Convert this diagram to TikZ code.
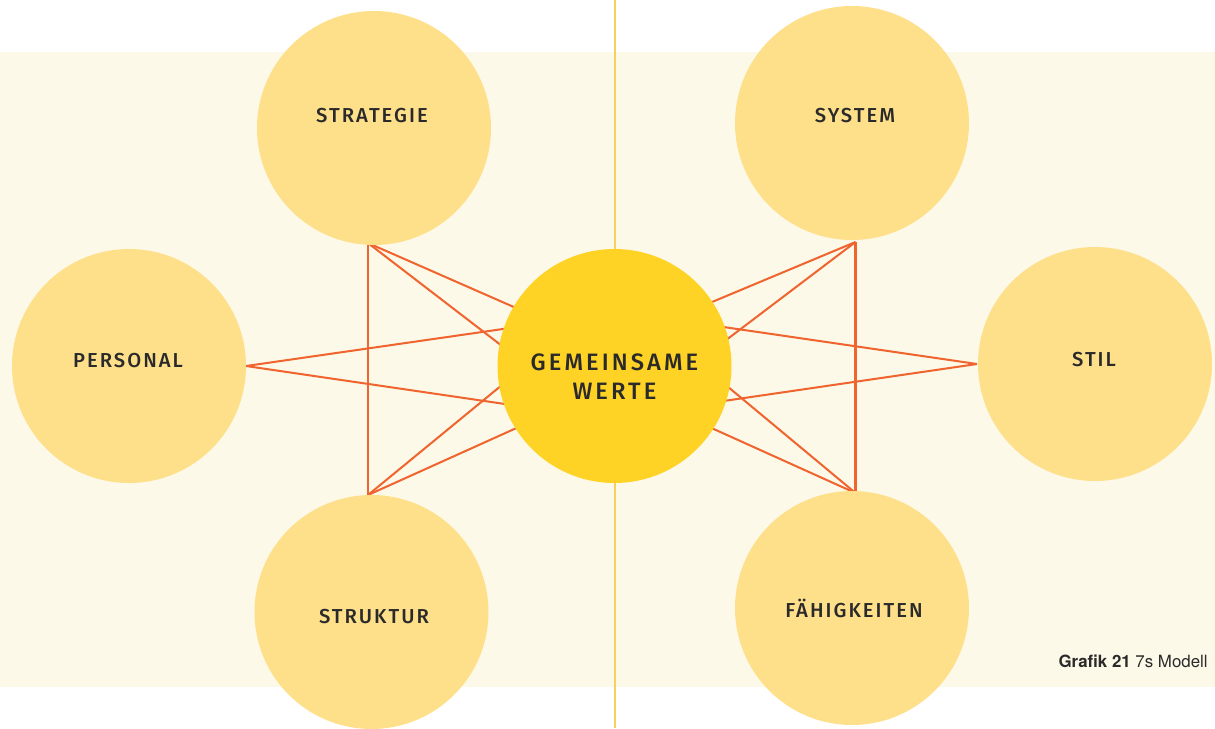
\documentclass[tikz,border=0pt]{standalone}
\usepackage{fontspec}
\setmainfont{TeX Gyre Heros}
\newfontfamily\lblfont{Fira Sans}[UprightFont=* Medium, LetterSpace=10]
\newfontfamily\corefont{Fira Sans}[UprightFont=* Medium, LetterSpace=13]
\newfontfamily\capfont{TeX Gyre Heros}
\definecolor{cream}{HTML}{FDF9E8}
\definecolor{softyellow}{HTML}{FFE08A}
\definecolor{coreyellow}{HTML}{FFD226}
\definecolor{linkorange}{HTML}{F0652F}
\definecolor{divider}{HTML}{F8D060}
\definecolor{ink}{HTML}{2A2A2A}
\tikzset{
  outer/.style={circle, fill=softyellow, minimum size=234*0.02cm, inner sep=0pt},
  core/.style={circle, fill=coreyellow, minimum size=234*0.02cm, inner sep=0pt},
  lbl/.style={font=\lblfont\fontsize{11.5}{14}\selectfont, text=ink, align=center, inner sep=0pt},
  corelbl/.style={font=\corefont\fontsize{13.5}{16.5}\selectfont, text=ink, align=center, inner sep=0pt},
  link/.style={draw=linkorange, line width=1.15pt},
}
\begin{document}
\begin{tikzpicture}[x=0.02cm,y=-0.02cm]
  % canvas and cream band
  \fill[white] (0,0) rectangle (1215,728);
  \useasboundingbox (0,0) rectangle (1215,728);
  \fill[cream] (0,52) rectangle (1215,687);
  % centre divider
  \coordinate (dtop) at (615,0);
  \coordinate (dbot) at (615,728);
  \draw[divider, line width=1.1pt] (dtop) -- (dbot);

  % link end points on the outer circles
  \coordinate (A) at (368,243);
  \coordinate (B) at (368,495);
  \coordinate (P) at (246,366);
  \coordinate (S) at (855.5,242);
  \coordinate (T) at (977,364);
  \coordinate (F) at (855.5,493);
  % link end points hidden behind the core circle
  \coordinate (a1) at (614,351); \coordinate (a2) at (614,432);
  \coordinate (p1) at (614,313); \coordinate (p2) at (614,420);
  \coordinate (b1) at (614,293); \coordinate (b2) at (614,384);
  \coordinate (s1) at (614,343); \coordinate (s2) at (614,425);
  \coordinate (t1) at (614,311); \coordinate (t2) at (614,417);
  \coordinate (f1) at (614,292); \coordinate (f2) at (614,384);

  % links
  \draw[link] (A) -- (B);
  \draw[link] (S) -- (F);
  \draw[link] (A) -- (a1);
  \draw[link] (A) -- (a2);
  \draw[link] (P) -- (p1);
  \draw[link] (P) -- (p2);
  \draw[link] (B) -- (b1);
  \draw[link] (B) -- (b2);
  \draw[link] (S) -- (s1);
  \draw[link] (S) -- (s2);
  \draw[link] (T) -- (t1);
  \draw[link] (T) -- (t2);
  \draw[link] (F) -- (f1);
  \draw[link] (F) -- (f2);

  % the seven elements
  \node[outer] (strategie) at (374,128) {};
  \node[outer] (system) at (852,123) {};
  \node[outer] (personal) at (129,366) {};
  \node[outer] (stil) at (1095,364) {};
  \node[outer] (struktur) at (371.5,612) {};
  \node[outer] (faehigkeiten) at (852,608) {};
  \node[core] (werte) at (614.5,366) {};

  \node[lbl] (tstrategie) at (372,116) {STRATEGIE};
  \node[lbl] (tsystem) at (855,116) {SYSTEM};
  \node[lbl] (tpersonal) at (128,361) {PERSONAL};
  \node[lbl] (tstil) at (1094,360) {STIL};
  \node[lbl] (tstruktur) at (374,617) {STRUKTUR};
  \node[lbl] (tfaehigkeiten) at (854,608) {FÄHIGKEITEN};
  \node[corelbl] (twerte) at (614.5,377) {GEMEINSAME\\WERTE};

  % caption
  \node[anchor=east, inner sep=0pt, font=\capfont\fontsize{9.6}{11}\selectfont, text=ink]
    (caption) at (1208,661) {\textbf{Grafik 21} 7s Modell};
\end{tikzpicture}
\end{document}
